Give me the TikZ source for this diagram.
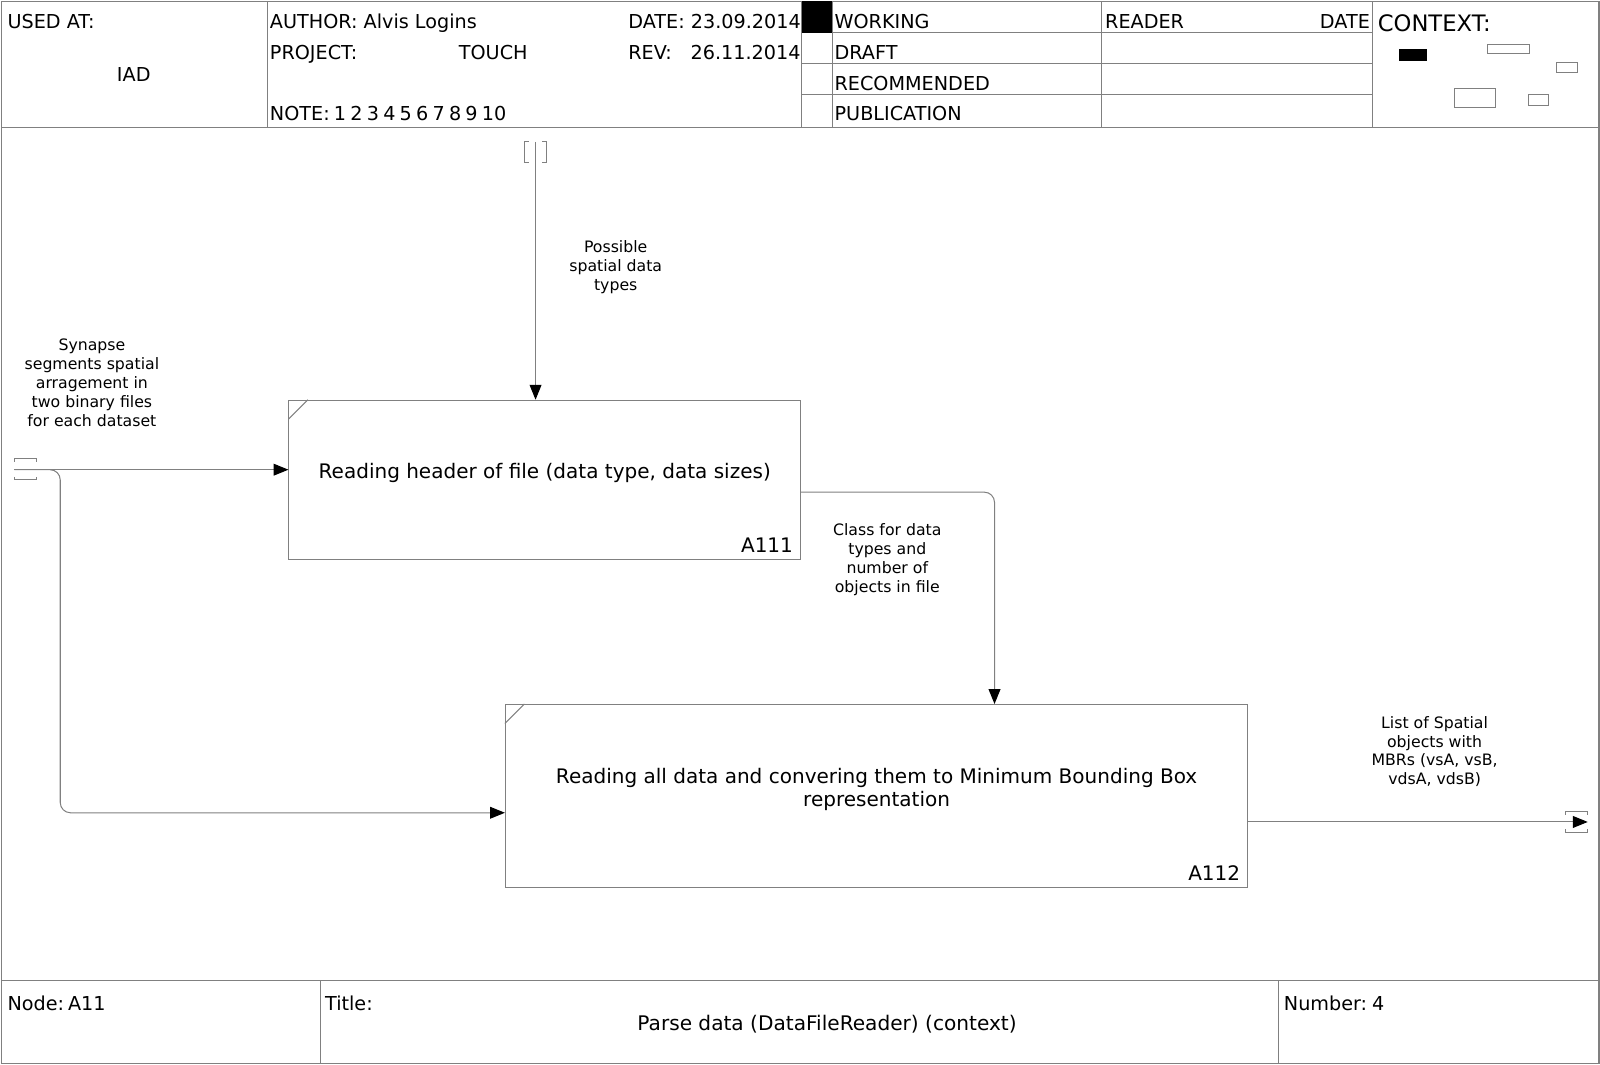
\documentclass[tikz,border=0pt]{standalone}
\usepackage{fontspec}
\setmainfont{DejaVu Sans}
\usetikzlibrary{arrows.meta,calc}
\definecolor{ln}{gray}{0.5}
\begin{document}
\begin{tikzpicture}[x=0.5pt,y=-0.5pt,
  frame/.style={draw=ln, line width=0.5pt},
  hdr/.style={anchor=base west, inner sep=0pt, font=\fontsize{9.4}{11}\selectfont},
  hdrc/.style={anchor=base, inner sep=0pt, font=\fontsize{9.85}{11}\selectfont},
  lbl/.style={align=center, inner sep=0pt, font=\fontsize{7.7}{9.25}\selectfont},
  act/.style={draw=ln, line width=0.5pt, inner sep=0pt},
  acttext/.style={anchor=base, inner sep=0pt, align=center, font=\fontsize{9.8}{11.5}\selectfont},
  actnum/.style={anchor=base east, inner sep=0pt, font=\fontsize{9.8}{11.5}\selectfont},
  flow/.style={draw=ln, line width=0.5pt, rounded corners=5pt,
    -{Triangle[length=7.3pt,width=5.8pt,color=black,fill=black]}},
  tun/.style={draw=ln, line width=0.5pt},
  ctx/.style={draw=ln, line width=0.5pt}]
\useasboundingbox (0,0) rectangle (1567,1043);
% frame
\draw[frame] (1,1) rectangle (1566,1042);
\draw[frame] (1,125) -- (1566,125);
\draw[frame] (262,1) -- (262,125);
\draw[frame] (785,1) -- (785,125);
\draw[frame] (815,1) -- (815,125);
\draw[frame] (1079,1) -- (1079,125);
\draw[frame] (1344,1) -- (1344,125);
\draw[frame] (785,32) -- (1344,32);
\draw[frame] (785,62) -- (1344,62);
\draw[frame] (785,93) -- (1344,93);
\fill[black] (785,1) rectangle (815,32);
\draw[frame] (1,960) -- (1566,960);
\draw[frame] (314,960) -- (314,1042);
\draw[frame] (1252,960) -- (1252,1042);
% header texts
\node[hdr] (usedat) at (7,27.5) {USED AT:};
\node[hdr, anchor=base] (iad) at (131,79.5) {IAD};
\node[hdr] (author) at (264,27.5) {AUTHOR: Alvis Logins};
\node[hdr] (date) at (615,27.5) {DATE: 23.09.2014};
\node[hdr] (project) at (264,58) {PROJECT:};
\node[hdr] (touch) at (449,58) {TOUCH};
\node[hdr] (rev) at (615,58) {REV:};
\node[hdr] (revd) at (676,58) {26.11.2014};
\node[hdr] (note) at (264,118.5) {\spaceskip=0.22em NOTE: 1 2 3 4 5 6 7 8 9 10};
\node[hdr] (working) at (817,27.5) {WORKING};
\node[hdr] (draft) at (817,58) {DRAFT};
\node[hdr] (recom) at (817,88.5) {RECOMMENDED};
\node[hdr] (publ) at (817,118.5) {PUBLICATION};
\node[hdr] (reader) at (1082,27.5) {READER};
\node[hdr, anchor=base east] (rdate) at (1342,27.5) {DATE};
\node[anchor=base west, inner sep=0pt, font=\fontsize{11.1}{13}\selectfont] (context) at (1349,31) {CONTEXT:};
% context thumbnails
\fill[black] (1370,48) rectangle (1398,60);
\draw[ctx] (1457,44) rectangle (1498,52);
\draw[ctx] (1524,61) rectangle (1545,71);
\draw[ctx] (1424,87) rectangle (1465,105);
\draw[ctx] (1497,93) rectangle (1517,103);
% footer texts
\node[hdr] (nodeid) at (7,990) {\spaceskip=0.1em Node: A11};
\node[hdr] (titlelbl) at (318,990) {Title:};
\node[hdrc] (title) at (810,1009) {Parse data (DataFileReader) (context)};
\node[hdr] (number) at (1257,990) {\spaceskip=0.15em Number: 4};
% activity boxes
\node[act, minimum width=250.5pt, minimum height=78pt] (a111) at (533.5,470) {};
\node[acttext] (a111t) at (533.5,469) {Reading header of file (data type, data sizes)};
\node[actnum] (a111n) at (777,541) {A111};
\draw[frame] ($(a111.north west)+(0,19)$) -- ($(a111.north west)+(19,0)$);
\node[act, minimum width=363.5pt, minimum height=89.5pt] (a112) at (858.5,779.5) {};
\node[acttext] (a112t) at (858.5,767) {Reading all data and convering them to Minimum Bounding Box};
\node[acttext] (a112t2) at (858.5,790) {representation};
\node[actnum] (a112n) at (1215,862) {A112};
\draw[frame] ($(a112.north west)+(0,19)$) -- ($(a112.north west)+(19,0)$);
% tunnels
\coordinate (ctlT) at (524.5,139);
\draw[tun] (518,139) -- (514,139) -- (514,159) -- (518,159);
\draw[tun] (531,139) -- (535,139) -- (535,159) -- (531,159);
\coordinate (inL) at (14,460);
\draw[tun] (14,452) -- (14,449) -- (36,449) -- (36,452);
\draw[tun] (14,467) -- (14,470) -- (36,470) -- (36,467);
\coordinate (outR) at (1555,805);
\draw[tun] (1533,798) -- (1533,795) -- (1555,795) -- (1555,798);
\draw[tun] (1533,812) -- (1533,815) -- (1555,815) -- (1555,812);
\coordinate (brk) at (59,796);
% connectors
\draw[flow] (ctlT) -- (ctlT |- a111.north);
\draw[flow] (inL) -- (inL -| a111.west);
\draw[flow] (inL) -| (brk) -- (brk -| a112.west);
\draw[flow] (a111.east |- 0,482) -| (974,0 |- a112.north);
\draw[flow] (a112.east |- outR) -- (outR);
% labels
\node[lbl] (l1) at (603,262) {Possible\\spatial data\\types};
\node[lbl] (l2) at (90,375) {Synapse\\segments spatial\\arragement in\\two binary files\\for each dataset};
\node[lbl] (l3) at (869,548) {Class for data\\types and\\number of\\objects in file};
\node[lbl] (l4) at (1405,736) {List of Spatial\\objects with\\MBRs (vsA, vsB,\\vdsA, vdsB)};
\end{tikzpicture}
\end{document}
